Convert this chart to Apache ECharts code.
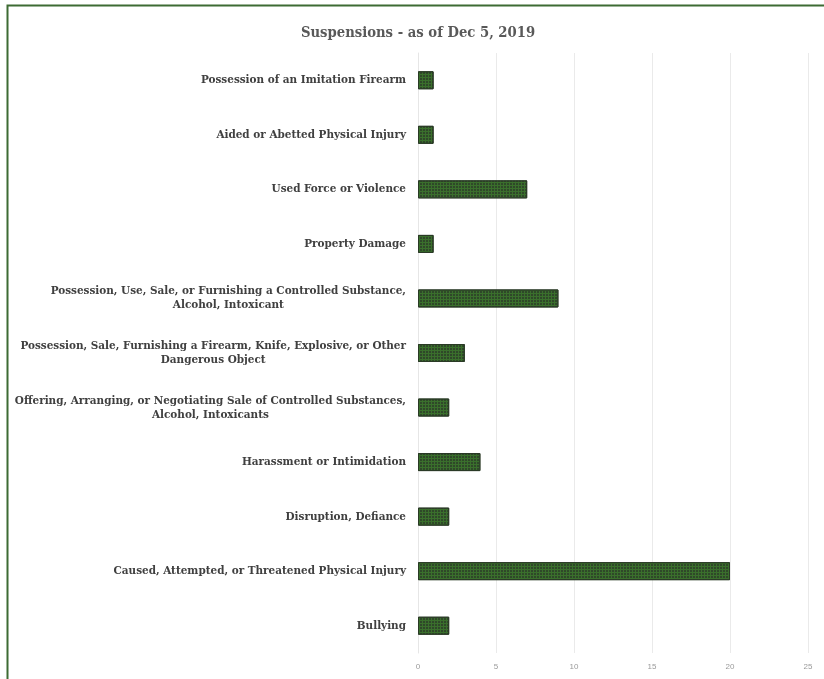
<!DOCTYPE html>
<html>
<head>
<meta charset="utf-8">
<script src="https://cdn.jsdelivr.net/npm/echarts@6/dist/echarts.min.js"></script>
<style>html,body{margin:0;padding:0;background:#fff;}#c{width:824px;height:679px;}</style>
</head>
<body>
<div id="c"></div>
<script>
var titleText = 'Suspensions - as of Dec 5, 2019';
var categories = [
  'Possession of an Imitation Firearm',
  'Aided or Abetted Physical Injury',
  'Used Force or Violence',
  'Property Damage',
  'Possession, Use, Sale, or Furnishing a Controlled Substance,\nAlcohol, Intoxicant',
  'Possession, Sale, Furnishing a Firearm, Knife, Explosive, or Other\nDangerous Object',
  'Offering, Arranging, or Negotiating Sale of Controlled Substances,\nAlcohol, Intoxicants',
  'Harassment or Intimidation',
  'Disruption, Defiance',
  'Caused, Attempted, or Threatened Physical Injury',
  'Bullying'
];
var values = [1, 1, 7, 1, 9, 3, 2, 4, 2, 20, 2];
var xTicks = [0, 5, 10, 15, 20, 25];

var FONT = '"DejaVu Serif Condensed", "DejaVu Serif", serif';
var chart = echarts.init(document.getElementById('c'), null, {renderer: 'canvas'});
chart.setOption({
  animation: false,
  backgroundColor: '#ffffff',
  aria: {enabled: true, decal: {show: true}},
  title: {
    text: titleText,
    left: 413, top: 21, textAlign: 'center',
    textStyle: {fontFamily: FONT, fontWeight: 'bold', fontSize: 14.7, color: '#595959'}
  },
  graphic: [{
    type: 'rect', left: 5, top: 3, silent: true,
    shape: {width: 840, height: 700},
    style: {fill: 'none', stroke: '#3d6b33', lineWidth: 2}
  }],
  grid: {left: 418, right: 16, top: 53, bottom: 26, containLabel: false},
  xAxis: {
    type: 'value', min: xTicks[0], max: xTicks[xTicks.length - 1], interval: 5,
    axisLine: {show: false}, axisTick: {show: false},
    splitLine: {show: true, lineStyle: {color: '#eaeaea', width: 1}},
    axisLabel: {fontFamily: 'Liberation Sans', fontSize: 8, color: '#9a9a9a', margin: 10}
  },
  yAxis: {
    type: 'category', data: categories, inverse: true,
    axisLine: {show: true, lineStyle: {color: '#e6e6e6'}}, axisTick: {show: false},
    axisLabel: {
      margin: 12, align: 'right',
      fontFamily: FONT, fontWeight: 'bold', fontSize: 11.6, color: '#404040', lineHeight: 14,
      formatter: function (v) {
        return v.split('\n').map(function (l) { return '{c|' + l + '}'; }).join('\n');
      },
      rich: {c: {align: 'center', fontFamily: FONT, fontWeight: 'bold', fontSize: 11.6, color: '#404040', lineHeight: 14}}
    }
  },
  series: [{
    type: 'bar', data: values, barWidth: 18,
    itemStyle: {
      color: '#3a6f2c', borderColor: '#2a3a26', borderWidth: 1,
      decal: {symbol: 'circle', symbolSize: 1, color: 'rgba(40,48,40,0.8)', dashArrayX: [2, 1], dashArrayY: [2, 1], rotation: 0}
    }
  }]
});
</script>
</body>
</html>
